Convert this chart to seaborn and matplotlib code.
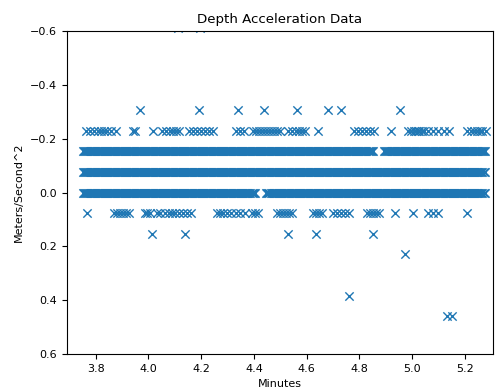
import numpy as np
import pandas as pd
import matplotlib
matplotlib.use("Agg")
import matplotlib.pyplot as plt
import seaborn as sns

plt.rcParams["font.size"] = 8

# Accelerometer levels (m/s^2): the sensor reports whole counts of g/128
LEVELS = {
    "n8": -0.613, "n4": -0.306, "n3": -0.230, "n2": -0.153, "n1": -0.077,
    "z0": 0.0, "p1": 0.077, "p2": 0.153, "p3": 0.230, "p5": 0.383, "p6": 0.460,
}

# Isolated readings (minutes) at each level
times_n8 = [4.112, 4.195]
times_n4 = [3.968, 4.192, 4.340, 4.438, 4.563, 4.680, 4.730, 4.956]
times_n3 = [3.763, 3.778, 3.794, 3.809, 3.820, 3.831, 3.843, 3.858, 3.877,
            3.941, 3.949, 4.017,
            4.051, 4.066, 4.081, 4.093, 4.104, 4.116,
            4.153, 4.169, 4.184, 4.199, 4.214, 4.229, 4.244,
            4.331, 4.347, 4.362,
            4.396, 4.407, 4.419, 4.430, 4.441, 4.453, 4.464, 4.475, 4.487, 4.498,
            4.529, 4.544, 4.559, 4.571, 4.582, 4.594, 4.642,
            4.778, 4.794, 4.809, 4.824, 4.839, 4.854, 4.921,
            4.983, 4.994, 5.006, 5.013, 5.021, 5.028, 5.036, 5.044,
            5.059, 5.078, 5.097, 5.120, 5.139,
            5.207, 5.222, 5.233, 5.245, 5.256, 5.267, 5.279]
times_p1 = [3.767, 3.870, 3.881, 3.892, 3.904, 3.915, 3.926,
            3.987, 3.995, 4.006,
            4.032, 4.044, 4.062, 4.078, 4.089, 4.101, 4.116, 4.131, 4.146, 4.161,
            4.259, 4.271, 4.282, 4.297, 4.313, 4.331, 4.347, 4.366,
            4.392, 4.403, 4.414,
            4.487, 4.498, 4.510, 4.521, 4.533, 4.544,
            4.623, 4.635, 4.646, 4.657,
            4.699, 4.714, 4.730, 4.745, 4.760,
            4.828, 4.839, 4.850, 4.862, 4.873,
            4.934, 5.002, 5.062, 5.081, 5.100, 5.210]
times_p2 = [4.013, 4.138, 4.529, 4.635, 4.850]
times_p3 = [4.972]
times_p5 = [4.760]
times_p6 = [5.134, 5.153]

# Continuous stretches (start, end in minutes) where a level is read at every sample
spans_n2 = [(3.751, 4.851), (4.893, 5.278)]
spans_n1 = [(3.751, 5.278)]
spans_z0 = [(3.751, 4.405), (4.447, 5.278)]
SAMPLE_STEP = 0.004  # minutes between logged samples

def span_times(spans):
    return np.concatenate([np.arange(a, b + 1e-9, SAMPLE_STEP) for a, b in spans])

parts = [
    (times_n8, "n8"), (times_n4, "n4"), (times_n3, "n3"),
    (span_times(spans_n2), "n2"), (span_times(spans_n1), "n1"),
    (span_times(spans_z0), "z0"),
    (times_p1, "p1"), (times_p2, "p2"), (times_p3, "p3"),
    (times_p5, "p5"), (times_p6, "p6"),
]
df = pd.DataFrame({
    "Minutes": np.concatenate([np.asarray(t, float) for t, _ in parts]),
    "Accel": np.concatenate([np.full(len(t), LEVELS[k]) for t, k in parts]),
})

fig = plt.figure(figsize=(4.96, 3.90), dpi=100)
ax = fig.add_axes([0.1345, 0.0923, 0.859, 0.8282])
sns.scatterplot(data=df, x="Minutes", y="Accel", marker="x", color="#1f77b4",
                s=36, linewidth=1.0, ax=ax)
ax.set_xlim(3.69, 5.306)
ax.set_ylim(0.6, -0.6)
ax.set_yticks([-0.6, -0.4, -0.2, 0.0, 0.2, 0.4, 0.6])
ax.set_xlabel("Minutes")
ax.set_ylabel("Meters/Second^2")
ax.set_title("Depth Acceleration Data")
fig.savefig("out.png", dpi=100)
